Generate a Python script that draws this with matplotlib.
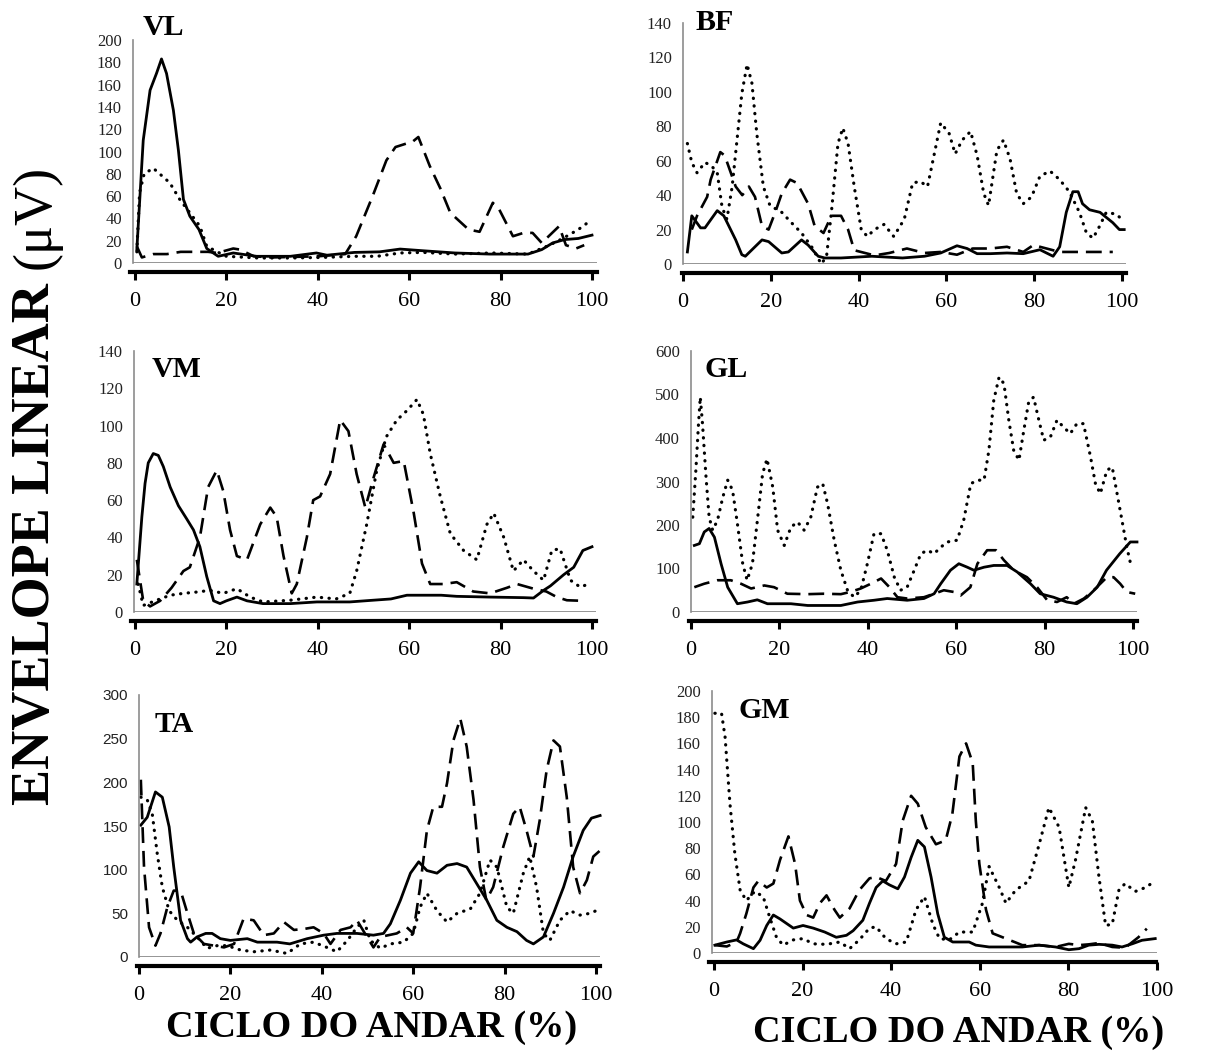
"""
Envelope linear EMG dos 6 musculos ao longo do ciclo do andar.
Gera out.png (1206x1060).
"""
import numpy as np
import matplotlib
matplotlib.use("Agg")
import matplotlib.pyplot as plt

plt.rcParams["font.family"] = "Liberation Serif"

W, H = 1206, 1060

# ---------------- dados ----------------
# VL
VL_SOLID_X = [0.4, 1.8, 3.3, 4.7, 5.8, 6.9, 8.4, 9.5, 10.6, 12, 14, 15.7, 18.2, 21.5, 26.6, 34, 39.7, 42, 48,
              53.5, 58, 63, 70, 77.6, 86, 89, 91.4, 94, 97, 100]
VL_SOLID_Y = [12, 110, 155, 170, 183, 170, 137, 101, 57, 42, 30, 13, 6, 9, 6, 6, 9, 7, 9.5,
              10, 12.5, 11, 9, 8, 8, 12, 18, 21, 22, 25]
VL_DASH_X = [0.4, 1.5, 4, 7, 10, 13, 16, 18, 21.5, 23, 26, 30, 40, 46, 48.4, 52, 55, 57, 60.8, 62,
             64.5, 66.8, 69, 73, 75.4, 78.3, 79.7, 82.7, 85, 87, 89, 92.8, 94.3, 96.5, 98.3]
VL_DASH_Y = [15, 5, 8, 8, 10, 10, 10, 9, 13, 12, 6, 5, 6, 8, 24, 60, 92, 104, 109, 113,
             87, 67, 45, 30, 28, 54, 48, 24, 27, 27, 18, 33, 16, 13, 16]
VL_DOT_X = [0.4, 1, 2, 4, 7.6, 9.8, 12, 14.2, 15.7, 18, 20, 27, 34, 41, 48, 53, 58, 63, 70, 78, 86,
            90.7, 93.6, 97, 99]
VL_DOT_Y = [10, 63, 80, 85, 72, 57, 45, 33, 15, 10, 6, 4.5, 4.5, 5, 6, 6, 9, 9.5, 8, 9, 8,
            16, 22, 30, 36]

# BF
BF_SOLID_X = [1, 2, 4, 5, 7.8, 9.3, 12, 13.4, 14.2, 16.4, 18, 19.5, 22.5, 24, 27, 28.5, 30.8, 32.3, 36, 43,
              50, 55, 58.7, 62.4, 64.7, 67, 70, 73.8, 77.5, 81.3, 84.3, 85.8, 87.3, 88.8, 90, 91, 92.6,
              95, 97.9, 99.4, 100.5]
BF_SOLID_Y = [7, 28, 21, 21, 31, 28, 14, 5.4, 4.5, 10, 14, 13, 6.4, 7, 14, 11, 4.5, 3.5, 3.5, 4.5,
              3.5, 4.5, 6.4, 10.6, 9, 6, 6, 6.4, 6, 8.3, 4.5, 10, 30, 42, 42, 35, 31.5,
              30, 24, 20, 20]
BF_DASH_X = [2, 3.2, 5.5, 6.3, 8.5, 9.5, 12, 13.5, 15, 16.4, 18, 19.5, 21, 22.5, 24.4, 26, 28.5, 30, 32,
             33.8, 36, 37.6, 39, 43.6, 47, 51, 55, 58.7, 62.4, 66, 70, 73.8, 77.5, 79.8, 82.8, 85.8,
             90, 97.9]
BF_DASH_Y = [20, 28, 39, 49, 65, 63, 45, 40, 45, 39, 22, 20, 30, 41, 49, 47, 35, 22, 18,
             28, 28, 20, 8, 5, 6.4, 9, 6.4, 7, 5.4, 9, 9, 10, 7, 11, 9, 7,
             7, 7]
BF_DOT_X = [1, 2, 3.2, 5, 6.5, 7.8, 8.9, 10, 11.2, 12.3, 13.4, 14.6, 15.7, 16.8, 18.3, 19.8, 22.5, 24.7,
            27, 29.3, 31.5, 32.7, 33.8, 35.3, 36.4, 37.6, 39, 40.6, 42, 43.6, 45.8, 48, 50.4, 52.3,
            54, 55.7, 57, 58.7, 60.6, 62, 63.6, 65.5, 67, 68.5, 69.6, 71.5, 73, 74.5, 76, 77.5,
            79.4, 81.3, 83.6, 85.8, 88, 90.3, 91.9, 93.4, 94.9, 96.4, 98.6, 100]
BF_DOT_Y = [70, 59, 53, 59, 57, 53, 33, 26, 45, 72, 99, 116, 105, 76, 45, 34, 30, 24,
            18, 10, 0, 4.5, 30, 70, 79, 70, 45, 20, 16, 20, 23, 16, 26, 47,
            48, 45, 61, 82, 76, 64, 72, 77, 63, 41, 34, 66, 72, 61, 41, 35,
            39, 51, 54, 49, 42, 30, 18, 15, 22, 30, 29, 26]

# VM
VM_SOLID_X = [0.4, 1.5, 2.2, 2.9, 4, 5.1, 6.2, 7.7, 9.5, 11.3, 12.8, 14.2, 15.7, 17.2, 18.6, 20, 22.3,
              24.5, 28, 34, 39.8, 47, 52, 56, 59.5, 63, 67, 70.4, 77.7, 85, 87.2, 89.4, 90.9, 93.8,
              96, 98, 100]
VM_SOLID_Y = [15, 51, 69, 80, 85, 84, 78, 67, 57, 50, 44, 35, 19, 6, 4.5, 6, 8,
              6, 4.5, 4.5, 5.4, 5.4, 6.3, 7, 9, 9, 9, 8.4, 8, 7.7, 7.5, 11.6, 14, 20,
              24, 33, 35]
VM_DASH_X = [0.4, 1.8, 3.3, 5.5, 8, 10.6, 12, 14.2, 16, 17.9, 19.3, 20.8, 22.3, 24.5, 27.4, 29.6, 31,
             32.5, 34.3, 35.4, 37.6, 39, 40.5, 42.7, 44.9, 46.7, 48.5, 50.4, 52.2, 54.4, 56.6, 58.8,
             61, 62.8, 64.6, 67.5, 70.4, 74, 77.7, 81.4, 83.6, 87.2, 90, 92.3, 94.5, 98]
VM_DASH_Y = [28, 6, 3, 6, 13, 22, 24, 40, 67, 76, 65, 44, 30, 28, 47, 56, 51,
             30, 10, 15, 40, 60, 62, 74, 103, 97, 74, 56, 72, 90, 80, 81,
             53, 26, 15, 15, 16, 11, 10, 13, 15, 12.5, 11, 8, 6.3, 6]
VM_DOT_X = [0.7, 1.8, 4.7, 7.7, 10.6, 13.5, 16.4, 19.3, 22.3, 25.2, 28, 33.9, 39.8, 44, 47, 48.5, 50.7,
            52.9, 55, 57.3, 59.5, 61.7, 63.1, 64.6, 66.8, 69, 71.9, 74.8, 77, 78.5, 80.7, 82.8, 85,
            87.2, 89.4, 91.2, 93, 95.3, 97.4, 99.3]
VM_DOT_Y = [15, 3.5, 6.3, 9, 10, 10.7, 11.6, 10, 12.5, 8, 5.4, 6.3, 8, 7, 10, 22, 47,
            76, 94, 103, 108, 114, 106, 85, 62, 42, 33, 28, 47, 53, 40, 22, 28,
            22, 17, 33, 34, 17, 13.4, 15]

# GL
GL_SOLID_X = [0.75, 1.9, 3, 4.1, 5.3, 6.8, 8.3, 10.5, 12.8, 15, 17.3, 22.6, 26.4, 33.9, 37.7, 41.4, 44.4,
              48.9, 52.7, 55, 56.5, 58.7, 60.6, 62.5, 64, 66.3, 68.5, 71.5, 73.8, 76.8, 79, 82, 85,
              87.3, 89.6, 91.9, 94, 97, 99.4, 100.9]
GL_SOLID_Y = [153, 157, 184, 192, 172, 111, 57, 19, 23, 28, 19, 19, 15, 15, 23, 27, 31,
              27, 31, 42, 65, 96, 111, 103, 96, 103, 107, 107, 92, 65, 42, 34, 23,
              19, 34, 57, 96, 134, 161, 161]
GL_DASH_X = [0.75, 3, 6, 9, 11.3, 13.6, 16.6, 18.8, 21.8, 26.4, 30, 33.9, 36, 38.4, 40.7, 43, 44.9, 46.7,
             48.9, 52.7, 55, 57.2, 59.5, 61, 63.2, 64.8, 67, 69, 70.8, 73, 76, 78.3, 80.6, 82.8, 85,
             86.6, 88.9, 91.1, 94.1, 95.6, 97.1, 98.6, 100.5]
GL_DASH_Y = [57, 65, 73, 73, 65, 54, 61, 57, 42, 41, 42, 41, 46, 54, 65, 77, 57, 34,
             31, 34, 42, 50, 46, 38, 57, 111, 142, 142, 119, 96, 80, 57, 27, 23, 34,
             19, 31, 50, 80, 80, 65, 46, 42]
GL_DOT_X = [0.4, 1.1, 1.7, 2.1, 2.6, 3.4, 4.1, 4.9, 6, 7.2, 8.3, 9.4, 10.5, 11.7, 12.7, 13.9, 15.1, 16.2,
            17.2, 18.5, 19.6, 21.1, 22.6, 24.1, 25.6, 27.1, 28.6, 29.8, 30.9, 32.4, 33.9, 35.4, 36.9,
            38.4, 39.9, 41.4, 43, 44.4, 46, 47.4, 48.9, 50.5, 52, 53.5, 55, 56.5, 58, 60.2, 61.7,
            63.3, 64.8, 66.3, 67.4, 68.5, 69.7, 70.8, 71.9, 73, 74.2, 75.3, 76.4, 77.5, 78.7, 79.8,
            81.3, 82.8, 84.3, 85.8, 87.3, 88.8, 90.4, 91.5, 92.6, 94.1, 95.3, 96.4, 97.5, 98.6, 99.7]
GL_DOT_Y = [218, 326, 433, 494, 433, 310, 218, 188, 211, 264, 303, 280, 203, 111, 73, 111, 218, 318,
            352, 287, 188, 153, 195, 207, 188, 218, 287, 295, 249, 165, 96, 50, 34,
            50, 111, 180, 180, 142, 80, 50, 57, 96, 134, 142, 134, 149, 161, 165, 211,
            295, 303, 303, 372, 487, 540, 525, 441, 372, 349, 418, 483, 494, 441, 395,
            402, 441, 425, 410, 433, 433, 356, 295, 272, 326, 333, 272, 211, 149, 100]

# TA
TA_SOLID_X = [0.4, 1.8, 3.6, 5.1, 6.6, 7.6, 9.1, 10.6, 11.3, 12.7, 14.6, 16, 17.8, 20, 23.7, 25.9, 30.2,
              33, 36.8, 40.4, 43.3, 47.7, 51.3, 53.5, 55, 57.2, 59.4, 61.2, 63, 65.2, 67.4, 69.6,
              71.7, 73.9, 76.1, 78.3, 80.5, 82.7, 84.8, 86.3, 88.5, 90.7, 92.9, 95, 97.2, 99, 100.9]
TA_SOLID_Y = [151, 160, 189, 183, 149, 103, 42, 21, 17, 23, 27, 27, 21, 19, 21, 17, 17,
              15, 21, 25, 27, 27, 25, 27, 38, 65, 96, 109, 99, 96, 105, 107,
              103, 84, 65, 42, 34, 29, 19, 15, 23, 50, 80, 115, 145, 159, 162]
TA_DASH_X = [0.4, 1.1, 2.2, 3.6, 4.7, 6.2, 7.6, 9.1, 10.6, 12, 14.2, 16.4, 18.6, 20.8, 22.9, 25.1, 27.3,
             29.5, 31.7, 33.9, 36, 38.2, 40.4, 41.9, 44.1, 46.3, 47.7, 49.9, 51.3, 52.8, 56.4, 58.6,
             60, 61.5, 63, 64.4, 66.3, 67.4, 68.8, 70.3, 71.7, 73.2, 74.6, 76, 77.5, 79.7, 81.9,
             83.3, 84.8, 86.3, 87.7, 89.2, 90.7, 92.1, 93.6, 95, 96.5, 98, 99.4, 100.9]
TA_DASH_Y = [203, 103, 34, 13, 27, 57, 76, 76, 50, 27, 15, 13, 11, 15, 44, 42, 25,
             27, 40, 31, 32, 34, 27, 15, 31, 34, 42, 23, 11, 23, 27, 34,
             27, 80, 145, 172, 172, 199, 248, 273, 241, 180, 103, 65, 80, 126, 164,
             172, 145, 115, 157, 214, 248, 241, 183, 103, 73, 88, 115, 122]
TA_DOT_X = [0.4, 1.8, 2.9, 4, 5.1, 6.6, 8.4, 10.6, 12.7, 14.9, 17.1, 19.3, 22.2, 25.1, 28.8, 32.4, 35.3,
            38.2, 41.1, 43.3, 45.6, 47.7, 49.2, 50.6, 52.8, 55, 57.9, 60, 61.5, 63, 65.2, 67.4,
            69.6, 72.5, 74.6, 76.8, 78.3, 80.5, 81.9, 84.1, 85.5, 87, 88.5, 89.9, 92.1, 94.3,
            96.5, 98.7, 100.9]
TA_DOT_Y = [183, 180, 164, 118, 80, 53, 42, 34, 23, 10, 13, 13, 8, 6, 8, 4, 15,
            17, 11, 6, 19, 34, 42, 19, 10, 15, 17, 27, 57, 73, 53, 40,
            50, 55, 73, 111, 103, 57, 50, 96, 115, 80, 27, 19, 42, 53,
            48, 50, 55]

# GM
GM_SOLID_X = [0.2, 2.9, 5.1, 6.6, 8.9, 10.4, 11.9, 13.4, 14.9, 17.9, 20.1, 22.4, 25, 27.6, 29.9, 31.4,
              33.6, 35.1, 36.6, 38.1, 39.6, 41.5, 43, 44.5, 46, 47.5, 49, 50.5, 52, 53.9, 57.6, 59.1,
              62.1, 65.9, 69.6, 73.4, 77.1, 80.1, 82.4, 84.6, 86.9, 89.9, 92.1, 94.4, 96.6, 99.6]
GM_SOLID_Y = [6, 8.4, 10, 7, 3.3, 9.7, 21, 29, 26, 19, 21, 19, 16, 12, 13.5, 17,
              25, 38, 50, 55, 52, 49, 58, 73, 86, 81, 58, 30, 12, 8.4, 8.4, 6,
              4.6, 4.6, 4.6, 6, 4.6, 2.5, 3.3, 6, 6.6, 6, 4.6, 7, 9.7, 11]
GM_DASH_X = [0.2, 2.9, 5.1, 5.9, 7.3, 8.9, 10, 11.9, 13.4, 14.9, 16.8, 18.3, 19.4, 20.9, 22.4, 23.9,
             25.4, 27.2, 28.4, 30.6, 32.8, 35.1, 36.6, 38.8, 41.1, 42.6, 44.5, 46, 47.8, 50.1, 52.3,
             53.8, 55.4, 56.9, 58.4, 59.1, 59.9, 61.4, 62.9, 65.9, 69.6, 73.4, 77.1, 80.1, 82.4,
             84.6, 86.9, 89.9, 92.8, 95.8, 97.7]
GM_DASH_Y = [6, 5, 8.4, 15, 30, 50, 55, 50, 53, 71, 89, 68, 40, 29, 27, 38,
             44, 33, 27, 34, 48, 57, 58, 55, 68, 101, 120, 114, 96, 83, 86,
             106, 150, 160, 145, 101, 68, 33, 15, 11, 6, 6, 4.6, 7, 6,
             6.6, 7.6, 4.6, 4, 12, 18.6]
GM_DOT_X = [0.2, 1.7, 2.5, 3.6, 4.7, 5.9, 7.3, 9.2, 11.1, 12.6, 14.1, 15.6, 17.9, 20.1, 22.4, 25.4, 28.4,
            30.6, 32.8, 35.1, 36.6, 38.8, 41.1, 43.4, 45.6, 47.5, 49.4, 50.9, 53.1, 55.4, 58.4,
            60.6, 62.1, 64.4, 65.9, 68.1, 71.1, 73.4, 75.6, 77.9, 80.1, 81.6, 83.9, 85.4, 86.9,
            88.4, 89.9, 91.4, 92.8, 95.1, 97.4, 99.6]
GM_DOT_Y = [183, 183, 165, 114, 76, 48, 40, 47, 43, 27, 12, 6, 10, 11, 7, 6.6, 8.4,
            3.3, 10, 19, 20, 11, 7, 8.4, 33, 43, 22, 11, 10, 16, 16,
            38, 66, 50, 38, 48, 55, 83, 111, 96, 50, 71, 111, 101, 58,
            21, 22, 48, 53, 47, 50, 55]

X_TICKS = [0, 20, 40, 60, 80, 100]

GRAY = "#8c8c8c"


def px_rect(left, right, y0, ytop):
    return [left / W, 1 - y0 / H, (right - left) / W, (y0 - ytop) / H]


def panel(fig, name, geom, ymax, ystep, solid, dash, dot, title_xy, sans=False):
    xa0, xa100, yax, right, y0, ytop = geom
    s = (xa100 - xa0) / 100.0
    ax = fig.add_axes(px_rect(yax, right, y0, ytop))
    ax.set_xlim((yax - xa0) / s, (right - xa0) / s)
    ax.set_ylim(0, ymax)

    ax.plot(*solid, color="k", lw=2.0, clip_on=False, solid_joinstyle="round")
    ax.plot(*dash, color="k", lw=1.9, linestyle=(0, (6, 3)), clip_on=False)
    ax.plot(*dot, color="k", lw=2.3, linestyle=(0, (0.1, 2.3)),
            dash_capstyle="round", clip_on=False)

    ax.axhline(0, color=GRAY, lw=1.3, zorder=1)
    for sp in ("top", "right"):
        ax.spines[sp].set_visible(False)
    ax.spines["left"].set_color(GRAY)
    ax.spines["left"].set_linewidth(1.2)
    ax.spines["bottom"].set_position(("outward", 6.8))
    ax.spines["bottom"].set_linewidth(3.0)
    ax.spines["bottom"].set_color("k")
    ax.spines["bottom"].set_bounds((yax - 3 - xa0) / s, (right - xa0) / s)

    ax.set_xticks(X_TICKS)
    ax.set_xticklabels([str(t) for t in X_TICKS])
    ax.tick_params(axis="x", direction="out", length=5.5, width=2.2, color="k",
                   labelsize=16, pad=8.5)
    ax.set_yticks(np.arange(0, ymax + 1, ystep))
    ax.tick_params(axis="y", length=0, pad=8, labelsize=12, labelcolor="#222222")
    if sans:
        for lab in ax.get_yticklabels():
            lab.set_fontfamily("Liberation Sans")
            lab.set_fontsize(11)
    ax.patch.set_alpha(0)

    fig.text(title_xy[0] / W, 1 - title_xy[1] / H, name, fontsize=21.5,
             fontweight="bold", ha="left", va="baseline")
    return ax


def main():
    fig = plt.figure(figsize=(W / 100, H / 100), dpi=100)

    panel(fig, "VL", (135, 592, 133, 597, 263, 40), 200, 20,
          (VL_SOLID_X, VL_SOLID_Y), (VL_DASH_X, VL_DASH_Y), (VL_DOT_X, VL_DOT_Y), (143, 35))
    panel(fig, "BF", (681, 1122, 683, 1126, 264, 23), 140, 20,
          (BF_SOLID_X, BF_SOLID_Y), (BF_DASH_X, BF_DASH_Y), (BF_DOT_X, BF_DOT_Y), (695, 30))
    panel(fig, "VM", (135, 592, 134, 596, 612, 351), 140, 20,
          (VM_SOLID_X, VM_SOLID_Y), (VM_DASH_X, VM_DASH_Y), (VM_DOT_X, VM_DOT_Y), (152, 377))
    panel(fig, "GL", (690, 1133, 691, 1137, 612, 351), 600, 100,
          (GL_SOLID_X, GL_SOLID_Y), (GL_DASH_X, GL_DASH_Y), (GL_DOT_X, GL_DOT_Y), (705, 377))
    panel(fig, "TA", (138, 596, 139, 600, 957, 695), 300, 50,
          (TA_SOLID_X, TA_SOLID_Y), (TA_DASH_X, TA_DASH_Y), (TA_DOT_X, TA_DOT_Y), (155, 732),
          sans=True)
    panel(fig, "GM", (714, 1158, 712, 1157, 953, 691), 200, 20,
          (GM_SOLID_X, GM_SOLID_Y), (GM_DASH_X, GM_DASH_Y), (GM_DOT_X, GM_DOT_Y), (738, 718))

    # rotulos gerais
    fig.text(372 / W, 1 - 1037 / H, "CICLO DO ANDAR (%)", fontsize=27.5,
             fontweight="bold", ha="center", va="baseline")
    fig.text(959 / W, 1 - 1042 / H, "CICLO DO ANDAR (%)", fontsize=27.5,
             fontweight="bold", ha="center", va="baseline")

    # eixo y geral: parte em negrito + unidade normal
    t1 = fig.text(36 / W, 0.5, "ENVELOPE LINEAR ", fontsize=39, fontweight="bold",
                  rotation=90, ha="center", va="bottom")
    t2 = fig.text(36 / W, 0.5, "(\u03bcV)", fontsize=39, rotation=90, ha="center", va="bottom")
    fig.canvas.draw()
    r = fig.canvas.get_renderer()
    h1 = t1.get_window_extent(r).height
    h2 = t2.get_window_extent(r).height
    total = h1 + h2
    center = H - 485
    y_start = center - total / 2
    t1.set_y(y_start / H)
    t2.set_y((y_start + h1) / H)

    fig.savefig("out.png", dpi=100)
    plt.close(fig)


if __name__ == "__main__":
    main()
